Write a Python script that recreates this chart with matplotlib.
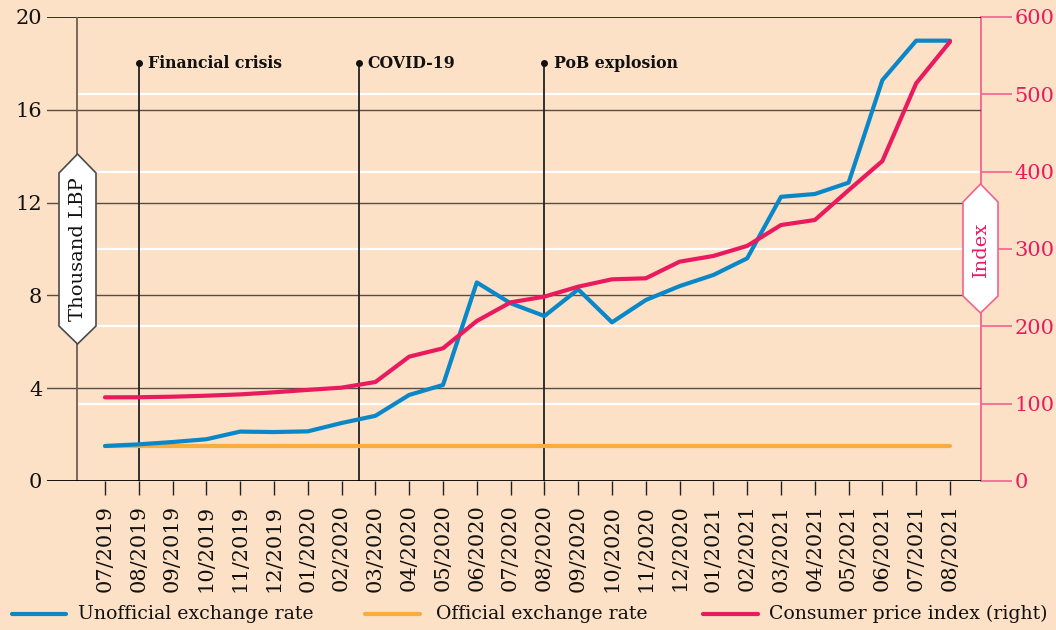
import matplotlib
matplotlib.use("Agg")
import matplotlib.pyplot as plt
from matplotlib.patches import Polygon
from matplotlib.lines import Line2D

months = ["07/2019", "08/2019", "09/2019", "10/2019", "11/2019", "12/2019",
          "01/2020", "02/2020", "03/2020", "04/2020", "05/2020", "06/2020",
          "07/2020", "08/2020", "09/2020", "10/2020", "11/2020", "12/2020",
          "01/2021", "02/2021", "03/2021", "04/2021", "05/2021", "06/2021",
          "07/2021", "08/2021"]
unofficial = [1.51, 1.58, 1.68, 1.80, 2.13, 2.11, 2.14, 2.50, 2.81, 3.71, 4.14,
              8.56, 7.66, 7.11, 8.26, 6.84, 7.80, 8.40, 8.88, 9.60, 12.25, 12.37,
              12.86, 17.28, 18.98, 18.98]
official = [1.507] * 26
cpi = [108.2, 108.3, 109.0, 110.3, 112.0, 114.7, 117.8, 120.7, 128.0, 160.8, 171.6,
       206.9, 231.0, 238.4, 251.3, 260.8, 262.1, 283.6, 291.0, 304.0, 331.0, 337.5,
       376.0, 413.8, 514.3, 568.0]
events = ["Financial crisis", "COVID-19", "PoB explosion"]
event_pos = [1, 7.5, 13]
legend_labels = ["Unofficial exchange rate", "Official exchange rate",
                 "Consumer price index (right)"]

BG = "#fce1c6"
BLUE = "#0a87c8"
ORANGE = "#f8ac3e"
PINK = "#ea1a5f"
PINK_AX = "#f0648c"
GRID = "#5a4c44"
FONT = "DejaVu Serif"

W, H = 1056, 630
fig = plt.figure(figsize=(W / 100, H / 100), dpi=100, facecolor=BG)

def fx(x):
    return x / W

def fy(y):
    return 1 - y / H

L, R, T, B = 47, 981, 17, 481
ax = fig.add_axes([fx(L), fy(B), fx(R) - fx(L), fy(T) - fy(B)], facecolor=BG)
x = list(range(len(months)))
px_per = (950 - 105) / 25.0
xmin = -(105 - L) / px_per
xmax = 25 + (R - 950) / px_per
ax.set_xlim(xmin, xmax)
ax.set_ylim(0, 20)

ax2 = ax.twinx()
ax2.set_ylim(0, 600)

# white gridlines for right axis
axis_x = -(105 - 77) / px_per
for v in [100, 200, 300, 400, 500]:
    ax2.plot([axis_x, xmax], [v, v], color="white", lw=1.6, zorder=1, solid_capstyle="butt")
# dark gridlines for left axis
for v in [4, 8, 12, 16]:
    ax.axhline(v, color=GRID, lw=1.0, zorder=1)
ax.axhline(20, color="black", lw=1.1, zorder=1)
ax.axhline(0, color="black", lw=1.3, zorder=3)
# left axis vertical line
ax.plot([axis_x, axis_x], [0, 20], color="#6e5f55", lw=1.3, zorder=2)

# events
for name, pos in zip(events, event_pos):
    ax.plot([pos, pos], [0, 18], color="#222222", lw=1.3, zorder=2)
    ax.plot([pos], [18], "o", color="#111111", ms=4, zorder=2)
    ax.text(pos + 0.27, 18, name, fontsize=11.3, fontweight="bold", family=FONT,
            va="center", ha="left", color="#111111")

ax.set_zorder(2)
ax2.set_zorder(1)
ax.patch.set_visible(False)
ax2.patch.set_facecolor(BG)

# series
ax.plot(x, official, color=ORANGE, lw=3, zorder=4, solid_capstyle="round")
ax.plot(x, unofficial, color=BLUE, lw=3, zorder=5, solid_capstyle="round")
# CPI is on the right scale (0-600); mapped onto the left axes so it draws on top
cpi_left = [v / 30.0 for v in cpi]
ax.plot(x, cpi_left, color=PINK, lw=3, zorder=6, solid_capstyle="round")

# ticks
ax.set_xticks(x)
ax.set_xticklabels(months, rotation=90, fontsize=15, family=FONT, color="#111111")
ax.tick_params(axis="x", length=10, width=1, color="#222222", pad=7)
ax.set_yticks([0, 4, 8, 12, 16, 20])
ax.set_yticklabels(["0", "4", "8", "12", "16", "20"], fontsize=15, family=FONT, color="#111111")
ax.tick_params(axis="y", length=0, pad=3.5)
for s in ax.spines.values():
    s.set_visible(False)

ax2.set_yticks([0, 100, 200, 300, 400, 500, 600])
ax2.set_yticklabels(["0", "100", "200", "300", "400", "500", "600"], fontsize=15,
                    family=FONT, color=PINK)
ax2.tick_params(axis="y", length=22, width=1.2, color=PINK_AX, pad=2)
for k, s in ax2.spines.items():
    s.set_visible(k == "right")
ax2.spines["right"].set_color(PINK_AX)
ax2.spines["right"].set_linewidth(1.3)
ax2.set_xlim(xmin, xmax)

# label boxes
def hexbox(cx, x0, x1, ytip0, ysh0, ysh1, ytip1, edge):
    pts = [(x0, ysh0), (cx, ytip0), (x1, ysh0), (x1, ysh1), (cx, ytip1), (x0, ysh1)]
    poly = Polygon([(fx(a), fy(b)) for a, b in pts], closed=True, transform=fig.transFigure,
                   facecolor="white", edgecolor=edge, lw=1.2, zorder=20)
    fig.add_artist(poly)

hexbox(77.5, 59, 96, 154, 173, 326, 344, "#4a4a4a")
fig.text(fx(78), fy(249), "Thousand LBP", rotation=90, ha="center", va="center",
         fontsize=14, family=FONT, color="#111111", zorder=21)
hexbox(980.5, 963, 998, 184, 202, 296, 313, PINK_AX)
fig.text(fx(981), fy(249), "Index", rotation=90, ha="center", va="center",
         fontsize=14, family=FONT, color=PINK, zorder=21)

# legend
leg_items = [(12, 66, 78, BLUE), (365, 420, 436, ORANGE), (703, 758, 769, PINK)]
for (a, b, t, c), lab in zip(leg_items, legend_labels):
    fig.add_artist(Line2D([fx(a), fx(b)], [fy(614), fy(614)], transform=fig.transFigure,
                          color=c, lw=3, solid_capstyle="round"))
    fig.text(fx(t), fy(614), lab, ha="left", va="center", fontsize=13.6, family=FONT,
             color="#111111")

fig.savefig("out.png", dpi=100, facecolor=BG)
